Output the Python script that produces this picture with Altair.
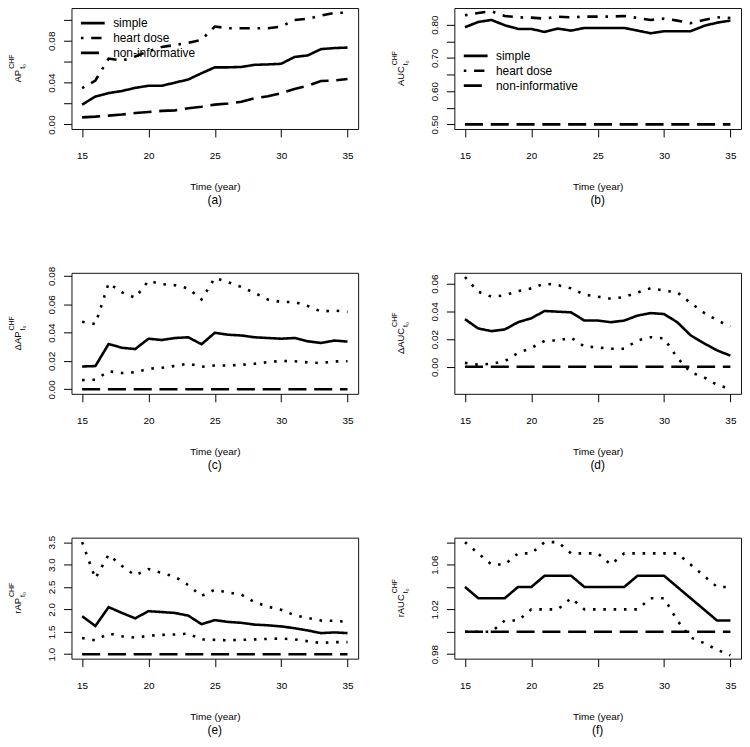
import altair as alt
import pandas as pd

FONT = "Liberation Sans"
W, H = 289, 122

years = list(range(15, 36))

# (a) AP
ap_simple = [0.019, 0.0267, 0.030, 0.032, 0.035, 0.037, 0.037, 0.040, 0.043, 0.049, 0.0546, 0.0546, 0.055,
             0.057, 0.0574, 0.058, 0.0645, 0.066, 0.072, 0.073, 0.0735]
ap_heart = [0.0347, 0.042, 0.063, 0.061, 0.065, 0.070, 0.074, 0.076, 0.078, 0.081, 0.0936, 0.092, 0.092,
            0.092, 0.092, 0.0936, 0.0998, 0.101, 0.104, 0.1067, 0.1067]
ap_noninf = [0.0068, 0.0075, 0.0085, 0.0095, 0.011, 0.012, 0.013, 0.0135, 0.0155, 0.017, 0.019, 0.020,
             0.0217, 0.025, 0.027, 0.0298, 0.034, 0.037, 0.0415, 0.042, 0.0434]

# (b) AUC
auc_simple = [0.792, 0.808, 0.814, 0.798, 0.787, 0.787, 0.778, 0.788, 0.782, 0.790, 0.790, 0.790, 0.790,
              0.782, 0.774, 0.780, 0.780, 0.780, 0.796, 0.806, 0.812]
auc_heart = [0.828, 0.835, 0.840, 0.826, 0.822, 0.821, 0.818, 0.824, 0.822, 0.824, 0.824, 0.824, 0.826,
             0.820, 0.814, 0.818, 0.812, 0.804, 0.814, 0.822, 0.820]
auc_noninf = [0.5] * len(years)

# (c) delta AP
dap_est = [0.0161, 0.0164, 0.032, 0.0293, 0.0284, 0.0357, 0.0348, 0.0362, 0.0367, 0.0318, 0.0399, 0.0385,
           0.038, 0.0367, 0.0362, 0.0357, 0.0362, 0.0339, 0.0327, 0.0344, 0.0337]
dap_up = [0.0477, 0.046, 0.0749, 0.0685, 0.0646, 0.0765, 0.0742, 0.0735, 0.0712, 0.0634, 0.0786, 0.0756,
          0.0722, 0.068, 0.0634, 0.0616, 0.0616, 0.0588, 0.0549, 0.0556, 0.0546]
dap_lo = [0.0065, 0.0068, 0.0127, 0.0115, 0.0120, 0.0145, 0.0152, 0.0165, 0.0182, 0.0159, 0.0168, 0.0168,
          0.0173, 0.018, 0.0192, 0.0200, 0.0198, 0.0190, 0.0185, 0.0197, 0.0198]
dap_ref = [0.0] * len(years)

# (d) delta AUC
dauc_est = [0.0343, 0.0276, 0.0257, 0.0269, 0.0321, 0.035, 0.0402, 0.0397, 0.0392, 0.0333, 0.0333, 0.0321,
            0.0333, 0.0369, 0.0387, 0.038, 0.0321, 0.0227, 0.017, 0.0118, 0.008]
dauc_up = [0.0647, 0.054, 0.0505, 0.0515, 0.0545, 0.0565, 0.060, 0.0588, 0.0565, 0.052, 0.0505, 0.049,
           0.0503, 0.0535, 0.0566, 0.0548, 0.0536, 0.046, 0.039, 0.0335, 0.029]
dauc_lo = [0.0028, 0.0015, 0.0022, 0.004, 0.010, 0.0135, 0.0187, 0.019, 0.021, 0.0146, 0.014, 0.013,
           0.013, 0.019, 0.0213, 0.0205, 0.0065, -0.004, -0.0075, -0.013, -0.016]
dauc_ref = [0.0] * len(years)

# (e) ratio AP
rap_est = [1.848, 1.63, 2.05, 1.92, 1.80, 1.96, 1.94, 1.92, 1.86, 1.67, 1.76, 1.72, 1.70, 1.66, 1.645,
           1.62, 1.58, 1.53, 1.47, 1.486, 1.47]
rap_up = [3.50, 2.69, 3.22, 2.97, 2.76, 2.90, 2.81, 2.73, 2.54, 2.30, 2.44, 2.375, 2.33, 2.16, 2.06, 1.99,
          1.87, 1.81, 1.75, 1.745, 1.72]
rap_lo = [1.36, 1.31, 1.46, 1.40, 1.37, 1.41, 1.43, 1.44, 1.46, 1.33, 1.32, 1.31, 1.32, 1.33, 1.34, 1.35,
          1.33, 1.29, 1.25, 1.27, 1.27]
rap_ref = [1.0] * len(years)

# (f) ratio AUC
rauc_est = [1.04, 1.03, 1.03, 1.03, 1.04, 1.04, 1.05, 1.05, 1.05, 1.04, 1.04, 1.04, 1.04, 1.05, 1.05,
            1.05, 1.04, 1.03, 1.02, 1.01, 1.01]
rauc_up = [1.08, 1.07, 1.06, 1.06, 1.07, 1.07, 1.08, 1.08, 1.07, 1.07, 1.07, 1.06, 1.07, 1.07, 1.07,
           1.07, 1.07, 1.06, 1.05, 1.04, 1.04]
rauc_lo = [1.00, 1.00, 1.00, 1.01, 1.01, 1.02, 1.02, 1.02, 1.03, 1.02, 1.02, 1.02, 1.02, 1.02, 1.03,
           1.03, 1.01, 0.995, 0.99, 0.984, 0.979]
rauc_ref = [1.0] * len(years)

model_names = ["simple", "heart dose", "non-informative"]
band_names = ["estimate", "upper", "lower", "reference"]

XTICKS = [15, 20, 25, 30, 35]
XDOM = [14.2, 35.8]

SOLID = [1, 0]
DOTDASH = [2.6, 7.8, 10.4, 7.8]
DOTTED = [2.6, 7.8]
LONGDASH = [18.2, 7.8]


def long_df(names, arrays):
    rows = []
    for name, vals in zip(names, arrays):
        for yr, v in zip(years, vals):
            rows.append({"year": yr, "value": v, "series": name})
    return pd.DataFrame(rows)


def label_expr(label_vals, fmt):
    keys = ",".join(str(int(round(v * 1000))) for v in label_vals)
    return (f"indexof([{keys}], round(datum.value*1000)) >= 0 ? "
            f"format(datum.value, '{fmt}') : ''")


def text_width(s, fs):
    em = {"A": .667, "P": .667, "U": .722, "C": .722, "Δ": .668, "r": .333, "H": .722, "F": .611}
    return sum(em.get(ch, .6) for ch in s) * fs


def panel(df, dash_dom, dash_rng, ydom, yticks, ylabels, yfmt, main, letter, legend=None):
    x = alt.X("year:Q", scale=alt.Scale(domain=XDOM, nice=False, zero=False),
              axis=alt.Axis(values=XTICKS, format="d", title="Time (year)", grid=False, domain=False,
                            tickSize=8, tickColor="black", labelFontSize=10, labelPadding=14,
                            labelColor="black", labelFont=FONT, titleFont=FONT, titleFontSize=10,
                            titleFontWeight="normal", titleColor="black", titlePadding=21))
    y = alt.Y("value:Q", scale=alt.Scale(domain=ydom, nice=False, zero=False),
              axis=alt.Axis(values=yticks, labelExpr=label_expr(ylabels, yfmt), title=None, grid=False,
                            domain=False, tickSize=8, tickColor="black", labelAngle=270,
                            labelAlign="center", labelBaseline="alphabetic", labelPadding=9,
                            labelFontSize=10, labelColor="black", labelFont=FONT))
    sd = alt.StrokeDash("series:N", scale=alt.Scale(domain=dash_dom, range=dash_rng),
                        legend=legend)
    lines = alt.Chart(df).mark_line(color="black", strokeWidth=2.6, clip=True,
                                    strokeCap="butt").encode(x=x, y=y, strokeDash=sd)

    fs_main, fs_small = 9.5, 7
    lm = text_width(main, fs_main)
    ls = text_width("CHF", fs_small)
    start_y = H / 2 + (lm + ls + 1) / 2
    sup_y = start_y - lm - 1
    base = alt.Chart(pd.DataFrame({"t": [main], "s": ["CHF"], "b": ["t\u2080"], "l": [letter]}))
    t_main = base.mark_text(angle=270, align="left", baseline="alphabetic", font=FONT,
                            fontSize=fs_main, color="black").encode(
        text="t:N", x=alt.value(-51), y=alt.value(start_y))
    t_sup = base.mark_text(angle=270, align="left", baseline="alphabetic", font=FONT,
                           fontSize=fs_small, color="black").encode(
        text="s:N", x=alt.value(-57.5), y=alt.value(sup_y))
    t_sub = base.mark_text(angle=270, align="left", baseline="alphabetic", font=FONT,
                           fontSize=fs_small, color="black").encode(
        text="b:N", x=alt.value(-47), y=alt.value(sup_y))
    t_letter = base.mark_text(align="center", baseline="middle", font=FONT, fontSize=12,
                              color="black").encode(
        text="l:N", x=alt.value(W / 2), y=alt.value(H + 72))
    return alt.layer(lines, t_main, t_sup, t_sub, t_letter).properties(width=W, height=H)


def model_legend(ly):
    return alt.Legend(orient="none", legendX=8, legendY=ly, title=None, symbolType="stroke",
                      symbolSize=576, symbolStrokeWidth=2.6, symbolStrokeColor="black",
                      labelFont=FONT, labelFontSize=12, labelColor="black", clipHeight=14.5,
                      rowPadding=0, labelOffset=7, padding=0, labelLimit=300)


pa = panel(long_df(model_names, [ap_simple, ap_heart, ap_noninf]), model_names,
           [SOLID, DOTDASH, LONGDASH], [-0.0043, 0.1113], [0, 0.02, 0.04, 0.06, 0.08, 0.10],
           [0, 0.04, 0.08], ".2f", "AP", "(a)", model_legend(8))
pb = panel(long_df(model_names, [auc_simple, auc_heart, auc_noninf]), model_names,
           [SOLID, DOTDASH, LONGDASH], [0.486, 0.85], [0.5, 0.55, 0.6, 0.65, 0.7, 0.75, 0.8],
           [0.5, 0.6, 0.7, 0.8], ".2f", "AUC", "(b)", model_legend(41))
pc = panel(long_df(band_names, [dap_est, dap_up, dap_lo, dap_ref]), band_names,
           [SOLID, DOTTED, DOTTED, LONGDASH], [-0.0032, 0.0822], [0, 0.02, 0.04, 0.06, 0.08],
           [0, 0.02, 0.04, 0.06, 0.08], ".2f", "\u0394AP", "(c)")
pd_ = panel(long_df(band_names, [dauc_est, dauc_up, dauc_lo, dauc_ref]), band_names,
            [SOLID, DOTTED, DOTTED, LONGDASH], [-0.0195, 0.0677], [0, 0.02, 0.04, 0.06],
            [0, 0.02, 0.04, 0.06], ".2f", "\u0394AUC", "(d)")
pe = panel(long_df(band_names, [rap_est, rap_up, rap_lo, rap_ref]), band_names,
           [SOLID, DOTTED, DOTTED, LONGDASH], [0.9, 3.6], [1.0, 1.5, 2.0, 2.5, 3.0, 3.5],
           [1.0, 1.5, 2.0, 2.5, 3.0, 3.5], ".1f", "rAP", "(e)")
pf = panel(long_df(band_names, [rauc_est, rauc_up, rauc_lo, rauc_ref]), band_names,
           [SOLID, DOTTED, DOTTED, LONGDASH], [0.976, 1.084], [0.98, 1.0, 1.02, 1.04, 1.06, 1.08],
           [0.98, 1.02, 1.06], ".2f", "rAUC", "(f)")

PAD = {"left": 0, "top": -4, "right": 0, "bottom": 0}

chart = alt.concat(pa, pb, pc, pd_, pe, pf, columns=2, spacing={"row": 145, "column": 97},
                   bounds="flush").resolve_scale(
    x="independent", y="independent", strokeDash="independent").resolve_legend(
    strokeDash="independent").properties(padding=PAD).configure(
    font=FONT, padding=PAD).configure_view(stroke="#111", strokeWidth=1)

chart.save("out.html", embed_options={"renderer": "svg", "actions": False})
